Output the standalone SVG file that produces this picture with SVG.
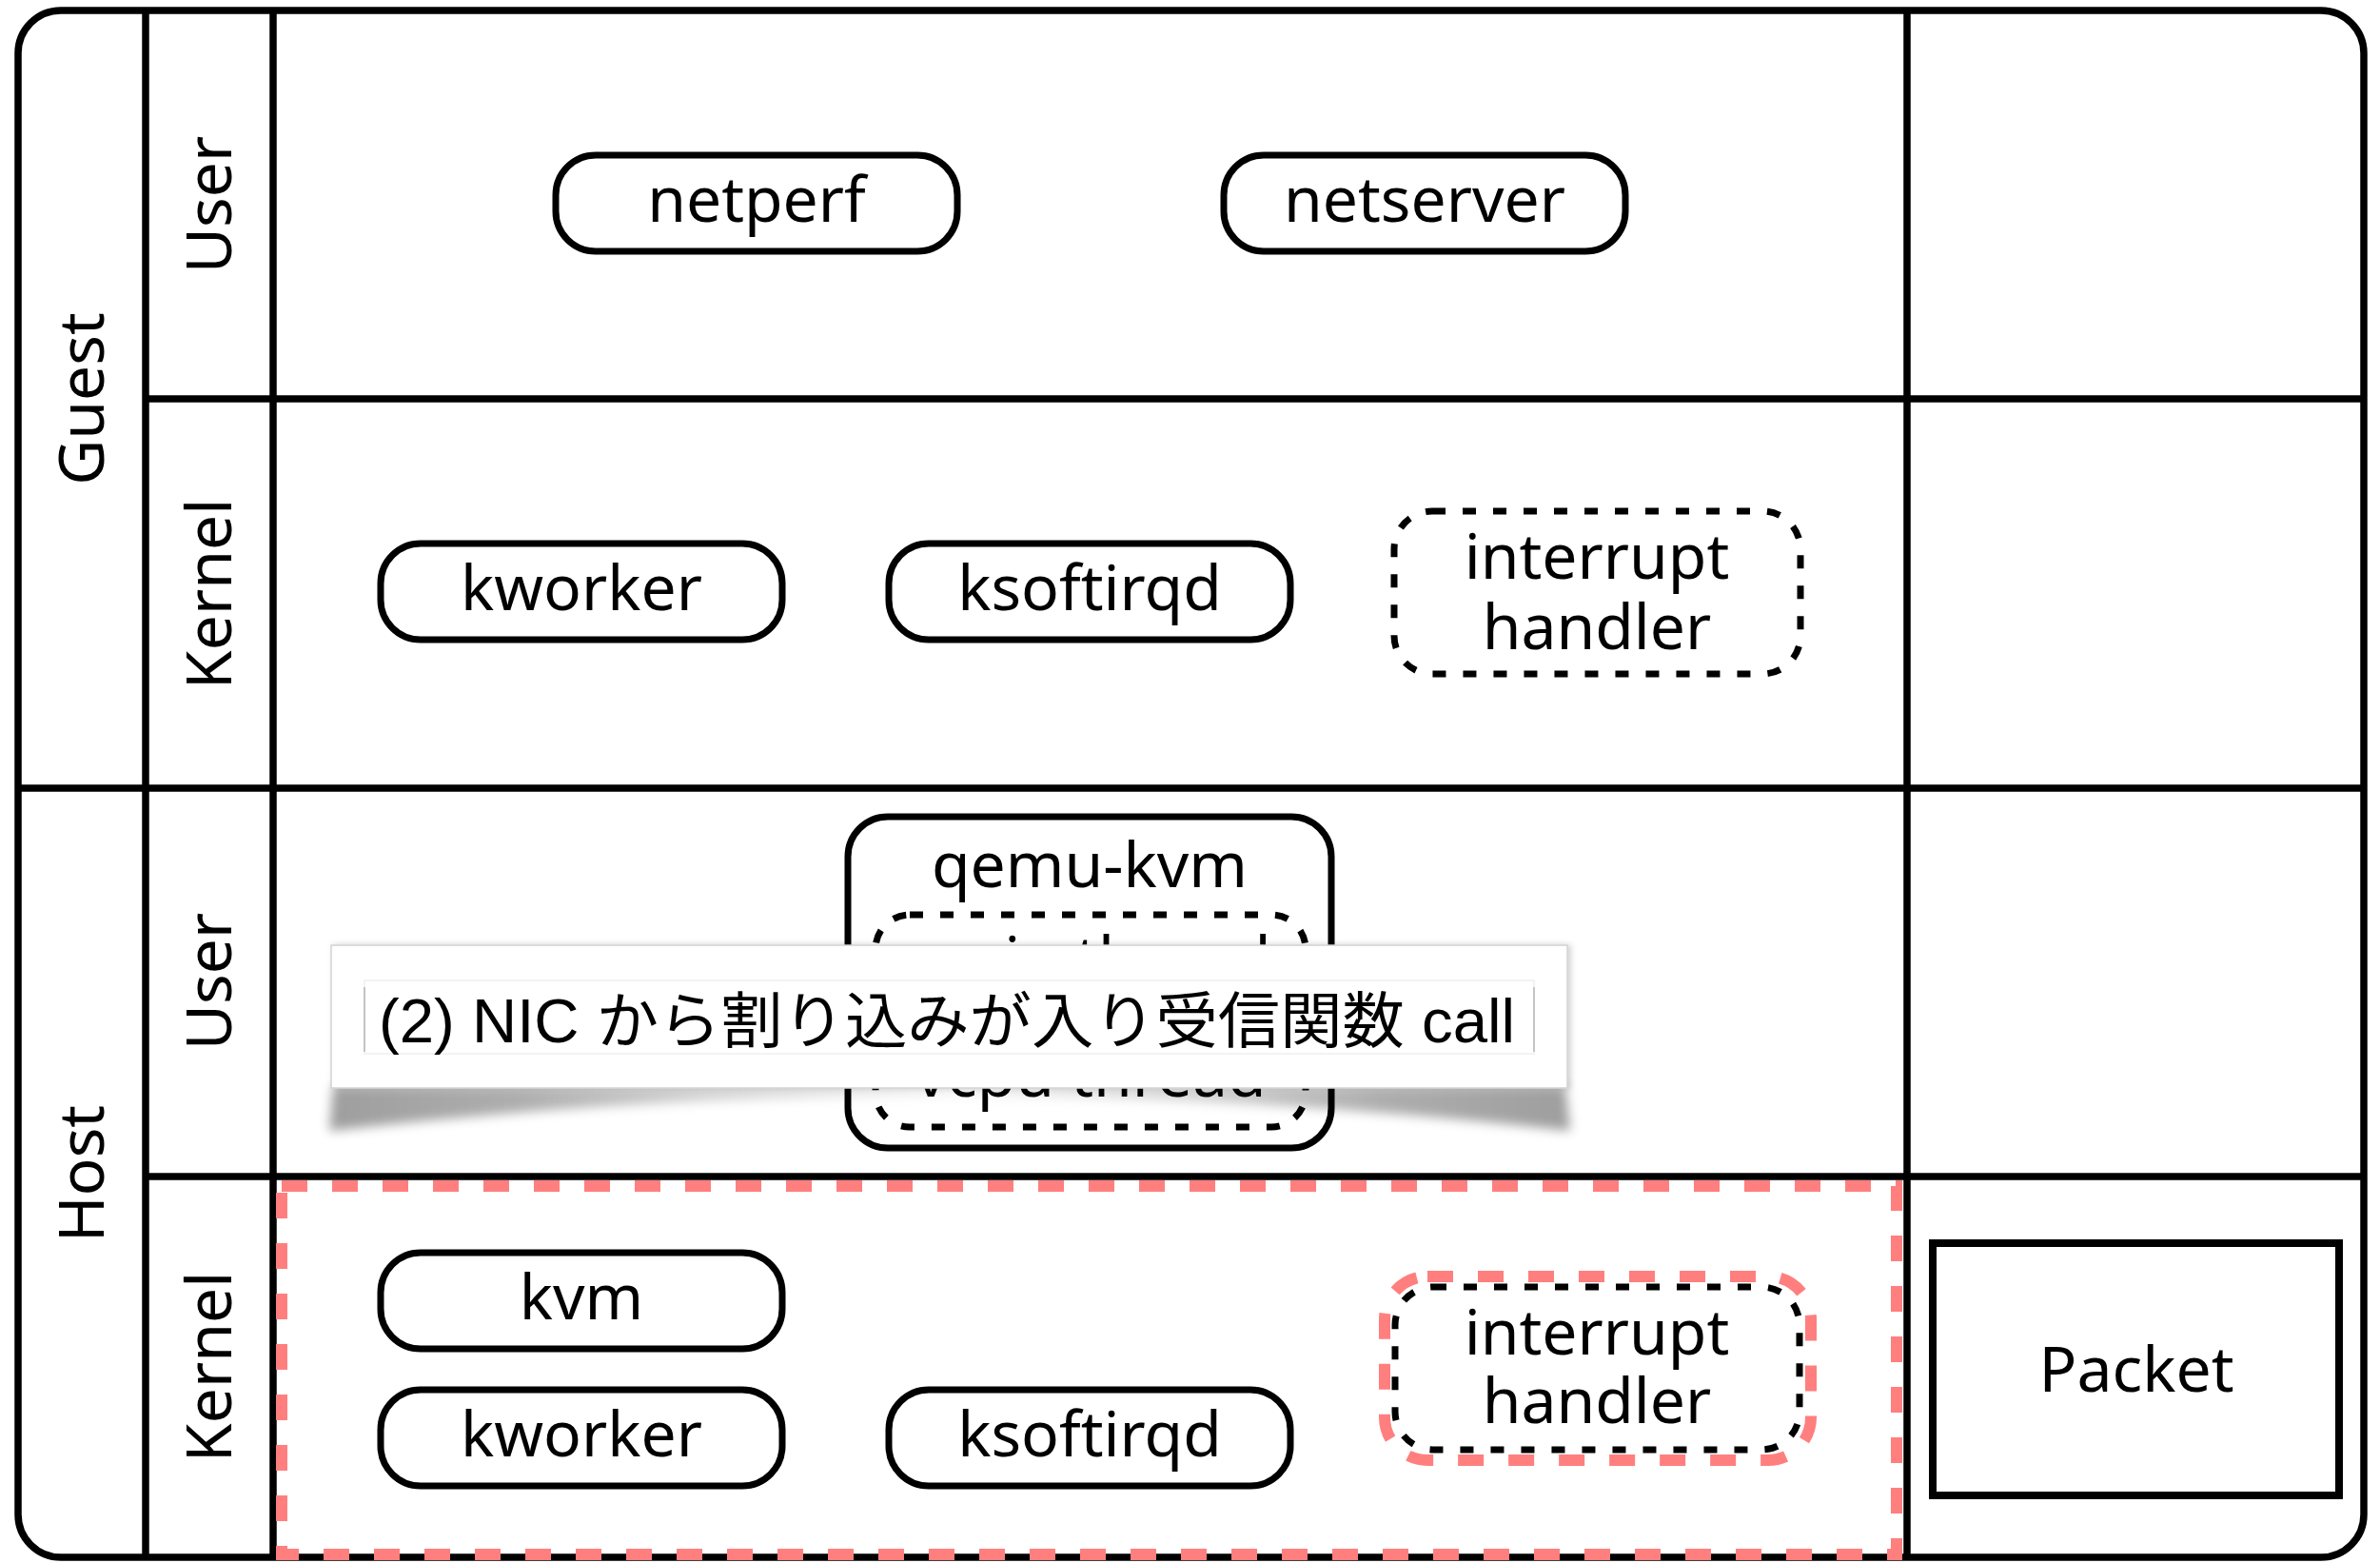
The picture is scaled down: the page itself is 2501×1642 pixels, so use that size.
<svg xmlns="http://www.w3.org/2000/svg" width="2501" height="1642" viewBox="0 0 2501 1642">
<style>
.ln{stroke:#000;stroke-width:7.5;fill:none}
.node{fill:#fff;stroke:#000;stroke-width:7}
.dash{fill:#fff;stroke:#000;stroke-width:7;stroke-dasharray:14 18}
.red{fill:none;stroke:#FF7F7F;stroke-width:12;stroke-dasharray:27 26}
.t{font-family:"Noto Sans","Open Sans",sans-serif;font-size:66px;fill:#000;text-anchor:middle}
.co{font-family:"Liberation Sans","Noto Sans CJK JP",sans-serif;font-size:64px;fill:#000}
</style>
<defs>
<linearGradient id="shg" x1="0" y1="0" x2="1" y2="0">
<stop offset="0" stop-color="#000" stop-opacity="0.38"/>
<stop offset="0.15" stop-color="#000" stop-opacity="0.32"/>
<stop offset="0.3" stop-color="#000" stop-opacity="0.18"/>
<stop offset="0.5" stop-color="#000" stop-opacity="0.05"/>
<stop offset="0.7" stop-color="#000" stop-opacity="0.18"/>
<stop offset="0.85" stop-color="#000" stop-opacity="0.32"/>
<stop offset="1" stop-color="#000" stop-opacity="0.38"/>
</linearGradient>
<filter id="blur" x="-5%" y="-80%" width="110%" height="260%"><feGaussianBlur stdDeviation="6"/></filter>
<filter id="ds" x="-5%" y="-20%" width="110%" height="140%"><feDropShadow dx="3" dy="0" stdDeviation="3" flood-color="#000" flood-opacity="0.18"/></filter>
</defs>
<rect width="2501" height="1642" fill="#fff"/>

<g id="frame">
<rect class="ln" x="19" y="11" width="2465" height="1625" rx="45"/>
<line class="ln" x1="153" y1="11" x2="153" y2="1636"/>
<line class="ln" x1="287" y1="11" x2="287" y2="1636"/>
<line class="ln" x1="2004" y1="11" x2="2004" y2="1636"/>
<line class="ln" x1="19" y1="828" x2="2484" y2="828"/>
<line class="ln" x1="153" y1="419" x2="2484" y2="419"/>
<line class="ln" x1="153" y1="1236" x2="2484" y2="1236"/>
</g>

<g id="labels">
<text class="t" transform="translate(86,419) rotate(-90)" x="0" y="23">Guest</text>
<text class="t" transform="translate(86,1233) rotate(-90)" x="0" y="23">Host</text>
<text class="t" transform="translate(220,215) rotate(-90)" x="0" y="23">User</text>
<text class="t" transform="translate(220,624) rotate(-90)" x="0" y="23">Kernel</text>
<text class="t" transform="translate(220,1031) rotate(-90)" x="0" y="23">User</text>
<text class="t" transform="translate(220,1436) rotate(-90)" x="0" y="23">Kernel</text>
</g>

<g id="highlight">
<rect class="red" x="296" y="1246" width="1697" height="387"/>
<rect class="red" x="1455" y="1341" width="448" height="193" rx="45"/>
</g>

<g id="netperf"><rect class="node" x="584" y="163" width="422" height="101" rx="42"/><text class="t" x="795" y="233">netperf</text></g>
<g id="netserver"><rect class="node" x="1286" y="163" width="422" height="101" rx="42"/><text class="t" x="1497" y="233">netserver</text></g>
<g id="guest-kworker"><rect class="node" x="400" y="571" width="422" height="101" rx="42"/><text class="t" x="611" y="641">kworker</text></g>
<g id="guest-ksoftirqd"><rect class="node" x="934" y="571" width="422" height="101" rx="42"/><text class="t" x="1145" y="641">ksoftirqd</text></g>
<g id="guest-interrupt"><rect class="dash" x="1465" y="537" width="427" height="171" rx="40"/><text class="t" x="1678" y="608">interrupt<tspan x="1678" y="682">handler</tspan></text></g>

<g id="qemu-kvm">
<rect class="node" x="891" y="858" width="508" height="348" rx="42"/>
<text class="t" x="1145" y="932">qemu-kvm</text>
<g id="main-thread"><rect class="dash" x="920" y="961" width="452" height="100" rx="36"/><text class="t" x="1146" y="1031">main thread</text></g>
<g id="vcpu-thread"><rect class="dash" x="920" y="1084" width="452" height="100" rx="36"/><text class="t" x="1146" y="1152">vcpu thread</text></g>
</g>

<g id="kvm"><rect class="node" x="400" y="1316" width="422" height="101" rx="42"/><text class="t" x="611" y="1386">kvm</text></g>
<g id="host-kworker"><rect class="node" x="400" y="1460" width="422" height="101" rx="42"/><text class="t" x="611" y="1530">kworker</text></g>
<g id="host-ksoftirqd"><rect class="node" x="934" y="1460" width="422" height="101" rx="42"/><text class="t" x="1145" y="1530">ksoftirqd</text></g>
<g id="host-interrupt"><rect class="dash" x="1466" y="1352" width="425" height="171" rx="40"/><text class="t" x="1678" y="1423">interrupt<tspan x="1678" y="1495">handler</tspan></text></g>

<g id="packet"><rect x="2031" y="1306" width="427" height="265" fill="#fff" stroke="#000" stroke-width="8"/><text class="t" x="2245" y="1462">Packet</text></g>

<g id="connectors"></g>

<g id="callout">
<path d="M350 1141 L1645 1141 L1650 1188 Q997 1114 346 1188 Z" fill="url(#shg)" filter="url(#blur)"/>
<rect x="348" y="993" width="1299" height="150" fill="#fff" stroke="#d2d2d2" stroke-width="1.5" filter="url(#ds)"/>
<rect x="383" y="1030" width="1229" height="77" fill="#fff" stroke="#efefef" stroke-width="1.5"/>
<line x1="383" y1="1037" x2="383" y2="1105" stroke="#c4c4c4" stroke-width="2"/>
<line x1="1612" y1="1037" x2="1612" y2="1105" stroke="#c4c4c4" stroke-width="2"/>
<text class="co" x="398" y="1095" textLength="1194" lengthAdjust="spacingAndGlyphs">(2) NIC から割り込みが入り受信関数 call</text>
</g>
</svg>
